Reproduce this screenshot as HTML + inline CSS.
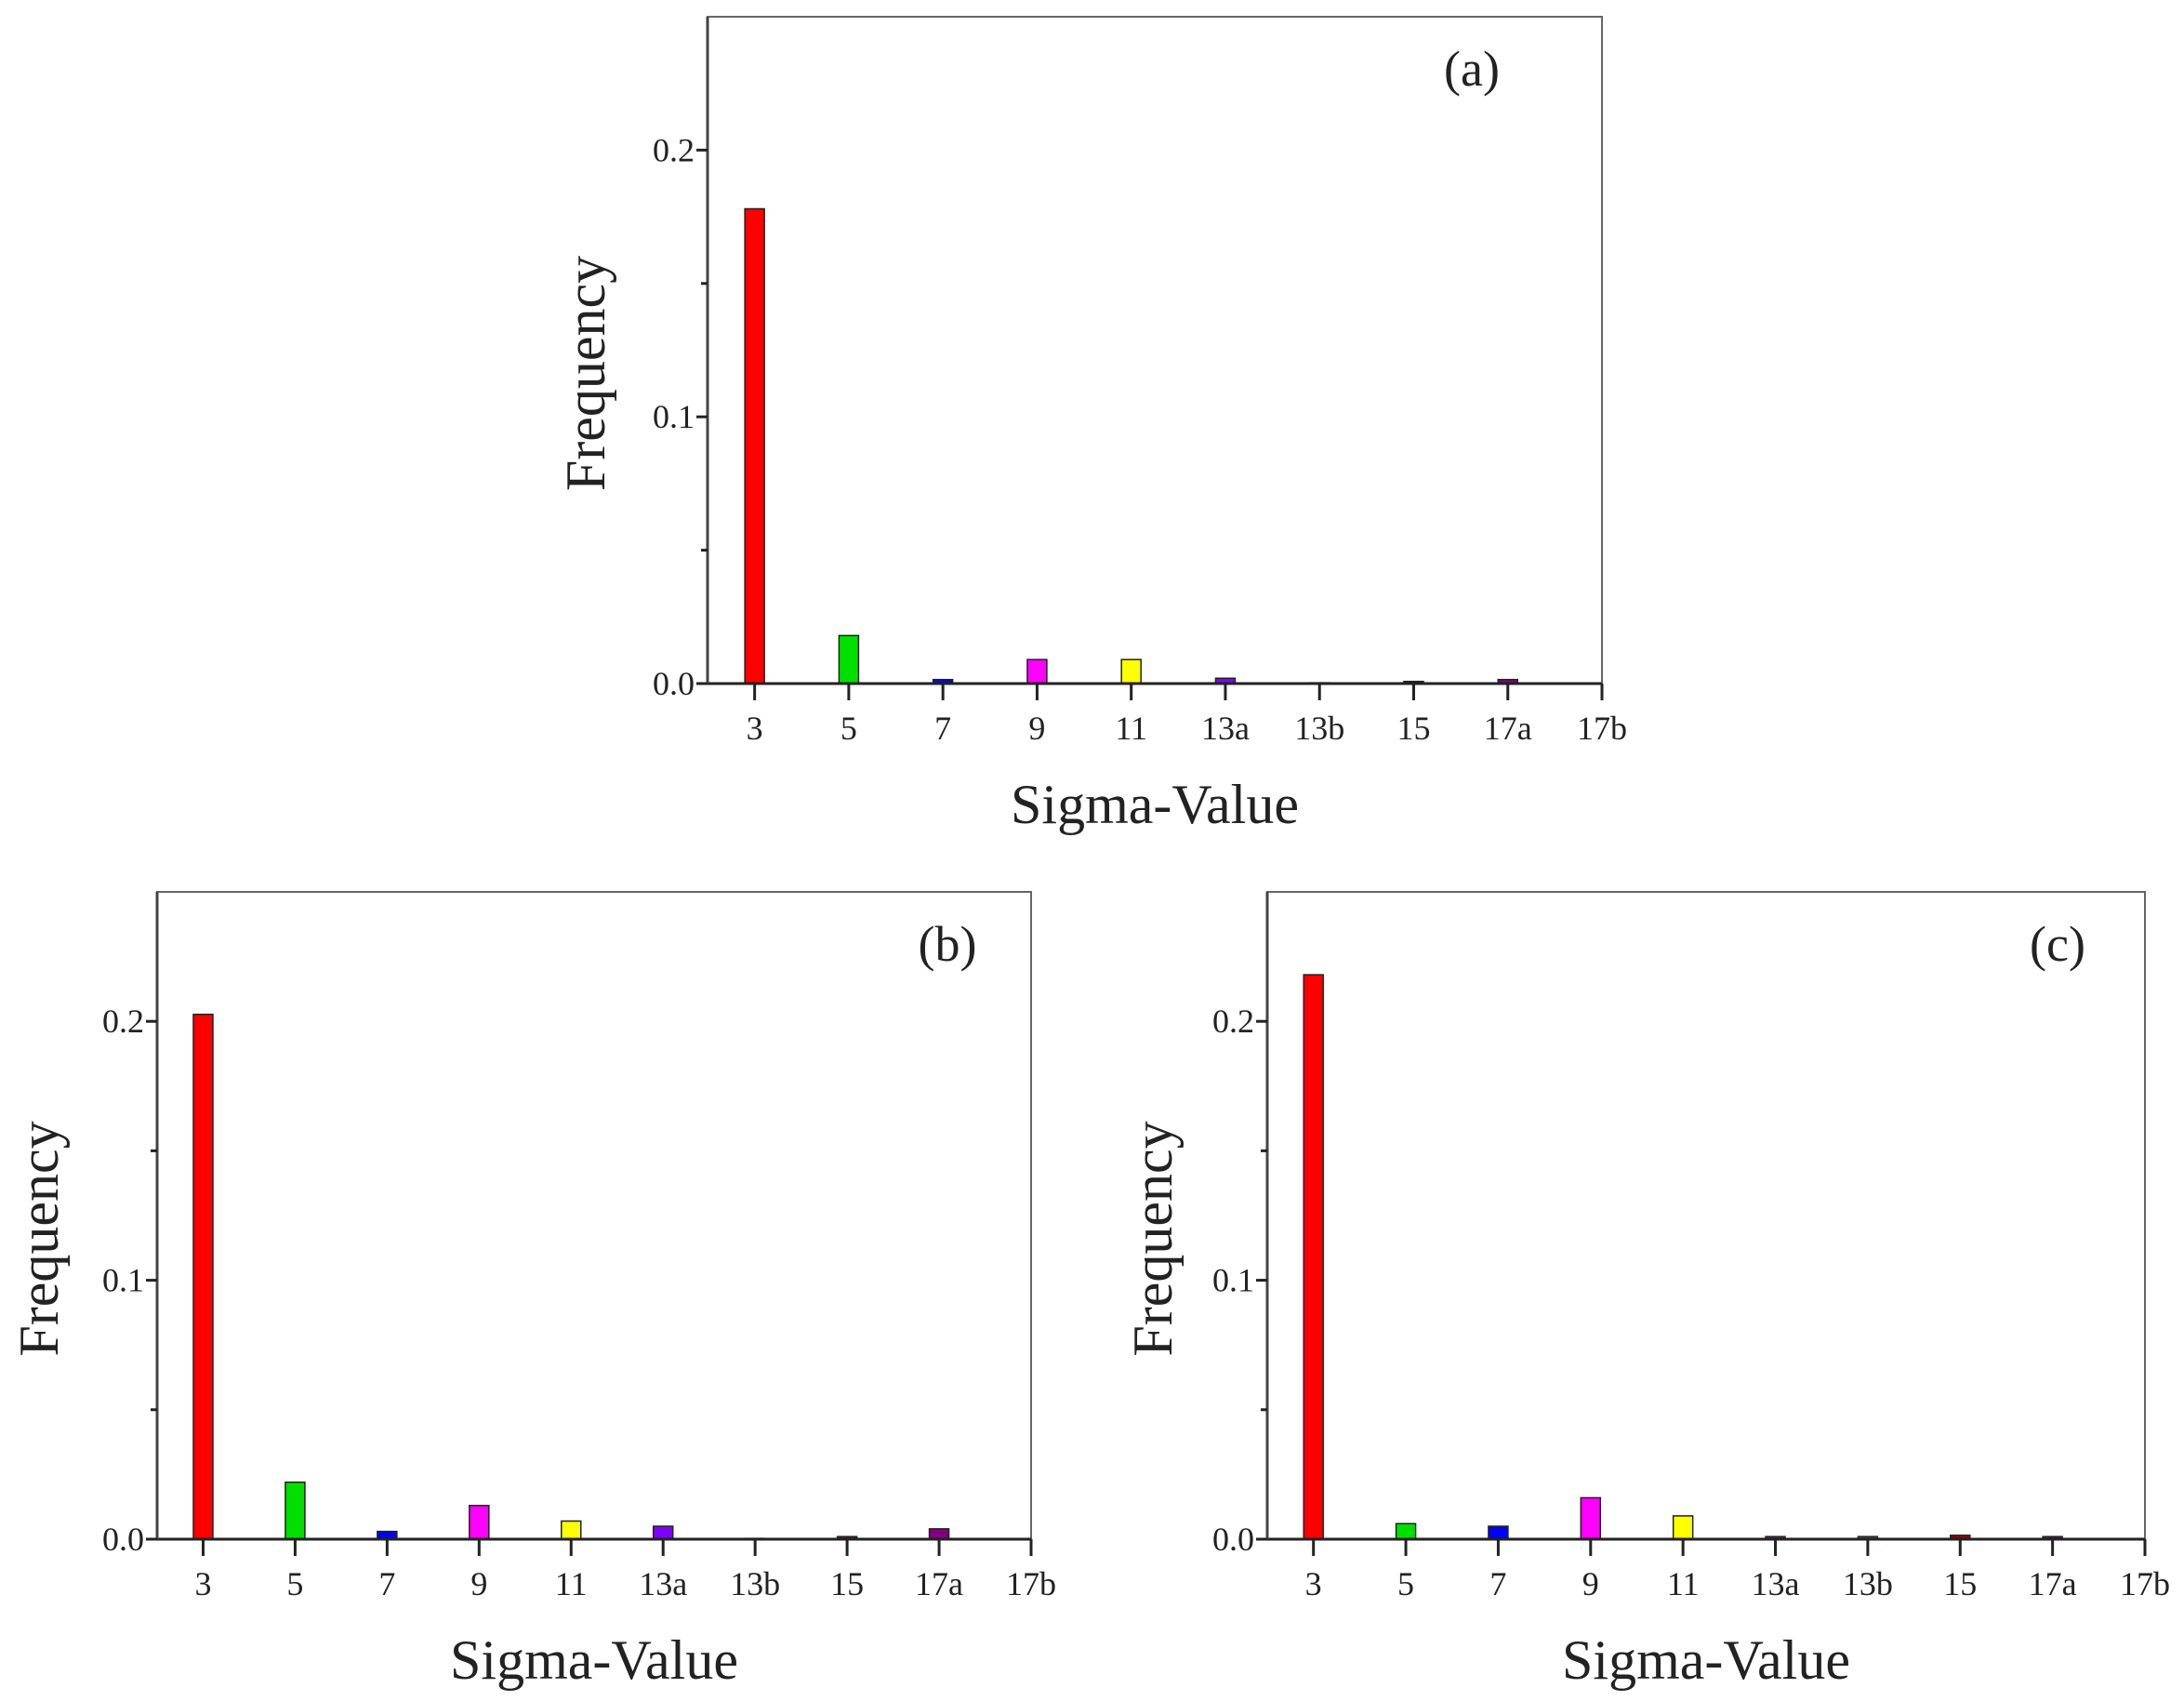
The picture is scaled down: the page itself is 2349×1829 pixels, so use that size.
<!DOCTYPE html>
<html><head><meta charset="utf-8"><style>
html,body{margin:0;padding:0;background:#fff;width:2349px;height:1829px;overflow:hidden}
svg{display:block}
text{font-family:"Liberation Serif",serif;fill:#222}
</style></head><body>
<svg id="fig" width="2349" height="1829" viewBox="0 0 2349 1829" xmlns="http://www.w3.org/2000/svg"></svg>
<script>
const categories = ["3","5","7","9","11","13a","13b","15","17a","17b"];
const valuesA = [0.178,0.018,0.0015,0.009,0.009,0.002,0.0003,0.0008,0.0015,0];
const valuesB = [0.2027,0.022,0.003,0.013,0.007,0.005,0.0003,0.001,0.004,0];
const valuesC = [0.218,0.006,0.005,0.016,0.009,0.001,0.001,0.0015,0.001,0];
const yTicks = [0,0.1,0.2];
const yTickLabels = ["0.0","0.1","0.2"];
const yMinor = [0.05,0.15];
const barColors = ["#ff0000","#00e000","#0000ff","#ff00ff","#ffff00","#8000ff","#008080","#a00000","#800080","#404040"];

const NS="http://www.w3.org/2000/svg";
const svg=document.getElementById('fig');
function mk(tag,attrs,parent){const e=document.createElementNS(NS,tag);for(const k in attrs)e.setAttribute(k,attrs[k]);(parent||svg).appendChild(e);return e;}

function panel(key,vals,L,R,T,B,labelPos,yTitleX,label){
  const g=mk('g',{});
  
  
  const yMax=0.25;
  const y=v=>B-(v/yMax)*(B-T);
  const step=(R-L)/9.5;
  const x=i=>L+(i+0.5)*step;
  const bw=21;
  const fr=mk('rect',{x:L,y:T,width:R-L,height:B-T,fill:'none',stroke:'#666','stroke-width':2},g);
  
  
  vals.forEach((v,i)=>{
    const h=B-y(v);
    const r=mk('rect',{x:x(i)-bw/2,y:y(v),width:bw,height:Math.max(h,0),fill:barColors[i],stroke:'#222','stroke-width':1.5},g);
    
    
  });
  const ax=mk('line',{x1:L,y1:B,x2:R,y2:B,stroke:'#222','stroke-width':3},g);
  
  
  const ay=mk('line',{x1:L,y1:T,x2:L,y2:B,stroke:'#444','stroke-width':3},g);
  
  
  categories.forEach((c,i)=>{
    mk('line',{x1:x(i),y1:B,x2:x(i),y2:B+18,stroke:'#222','stroke-width':3},g);
    const t=mk('text',{x:x(i),y:B+60,'text-anchor':'middle','font-size':36},g);
    t.textContent=c;
    
    
  });
  yTicks.forEach((v,i)=>{
    mk('line',{x1:L-12,y1:y(v),x2:L,y2:y(v),stroke:'#222','stroke-width':3},g);
    const t=mk('text',{x:L-14,y:y(v)+12,'text-anchor':'end','font-size':36},g);
    t.textContent=yTickLabels[i];
    
    
  });
  yMinor.forEach(v=>{mk('line',{x1:L-7,y1:y(v),x2:L,y2:y(v),stroke:'#222','stroke-width':3},g);});
  const xt=mk('text',{x:(L+R)/2,y:B+150,'text-anchor':'middle','font-size':60},g);
  xt.textContent='Sigma-Value';
  
  
  const yc=(T+B)/2+25;
  const yt=mk('text',{x:yTitleX,y:yc,'text-anchor':'middle','font-size':60,transform:'rotate(-90 '+yTitleX+' '+yc+')'},g);
  yt.textContent='Frequency';
  
  
  const pl=mk('text',{x:labelPos[0],y:labelPos[1],'text-anchor':'middle','font-size':54},g);
  pl.textContent=label;
  
  
}
panel('a',valuesA,761,1723,18,735,[1583,92],650,'(a)');
panel('b',valuesB,169,1109,959,1655,[1019,1033],62,'(b)');
panel('c',valuesC,1363,2307,959,1655,[2213,1033],1260,'(c)');
</script>
</body></html>
